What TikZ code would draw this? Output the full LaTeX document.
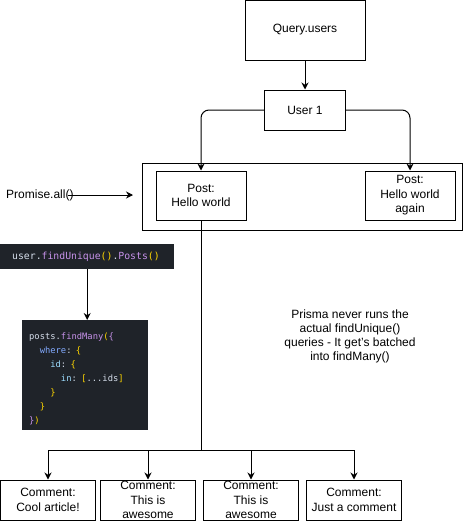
\documentclass[tikz,border=0pt]{standalone}
\usepackage{fontspec}
\setmainfont{Liberation Sans}
\newfontfamily\codefont{DejaVu Sans Mono}
\usetikzlibrary{arrows.meta}
\definecolor{codebg}{HTML}{1F2329}
\definecolor{cvar}{HTML}{D6DEEB}
\definecolor{cfun}{HTML}{C792EA}
\definecolor{cbr}{HTML}{FFD700}
\definecolor{ckey}{HTML}{82AAFF}
\definecolor{cprop}{HTML}{9CDCFE}
\begin{document}
\begin{tikzpicture}[x=1pt,y=-1pt,
  box/.style={draw, line width=1pt, align=center, inner sep=0pt,
    font=\fontsize{12}{14.5}\selectfont},
  lbl/.style={align=center, inner sep=0pt, font=\fontsize{12}{14}\selectfont},
  arr/.style={-{Stealth[length=7pt,width=7pt]}, line width=1pt},
  ln/.style={line width=1pt},
  code/.style={fill=codebg, draw=none, anchor=north west, align=left,
    text=cvar}]
\useasboundingbox (0,0) rectangle (464,522);

% top boxes
\node[box, minimum width=120pt, minimum height=60pt] (q) at (305,30) {Query.users};
\node[box, minimum width=81pt, minimum height=40pt] (u) at (305,110) {User 1};

% container and posts
\node[draw, line width=1pt, minimum width=320pt, minimum height=67pt, inner sep=0pt] (cont) at (302,196.5) {};
\node[box, minimum width=90pt, minimum height=49pt] (p1) at (201,195.5) {Post:\\Hello world};
\node[box, minimum width=90pt, minimum height=49pt] (p2) at (410,195.5) {Post:\\Hello world\\again};

% Promise.all
\node[lbl, anchor=west] (pa) at (6,195) {Promise.all()};
\coordinate (patip) at (133,195);

% code blocks
\node[code, inner xsep=12pt, inner ysep=0pt, text width=150pt, minimum height=25pt,
  font=\codefont\fontsize{9.8}{12}\selectfont] (code1) at (0,244)
  {user.{\color{cfun}findUnique}{\color{cbr}()}.{\color{cfun}Posts}{\color{cbr}()}};
\node[code, inner xsep=7pt, inner ysep=0pt, text width=112pt, minimum height=110pt,
  font=\codefont\fontsize{8.8}{14}\selectfont] (code2) at (22,320)
  {\rule{0pt}{14.7pt}posts.{\color{cfun}findMany}{\color{cbr}(}{\color{cfun}\{}\\
   \hspace*{1.204em}{\color{ckey}where}: {\color{cbr}\{}\\
   \hspace*{2.408em}{\color{cprop}id}: {\color{cbr}\{}\\
   \hspace*{3.612em}{\color{cprop}in}: {\color{cbr}[}...ids{\color{cbr}]}\\
   \hspace*{2.408em}{\color{cbr}\}}\\
   \hspace*{1.204em}{\color{cbr}\}}\\
   {\color{cfun}\}}{\color{cbr})}};

% note
\node[lbl] (note) at (350,336) {Prisma never runs the\\actual findUnique()\\queries - It get's batched\\into findMany()};

% comments
\node[box, minimum width=95pt, minimum height=40pt] (c1) at (48,500) {Comment:\\Cool article!};
\node[box, minimum width=95pt, minimum height=40pt] (c2) at (148,500) {Comment:\\This is\\awesome};
\node[box, minimum width=95pt, minimum height=40pt] (c3) at (251,500) {Comment:\\This is\\awesome};
\node[box, minimum width=95pt, minimum height=40pt] (c4) at (354,500) {Comment:\\Just a comment};
\coordinate (j) at (201,450);

% connectors
\draw[arr] (q) -- (u);
\draw[arr, rounded corners=8pt] (u.west) -| (p1.north);
\draw[arr, rounded corners=8pt] (u.east) -| (p2.north);
\draw[arr] ([xshift=-6pt]pa.east) -- (patip);
\draw[arr] (code1.south) -- (code1.south |- code2.north);
\draw[ln] (p1.south) -- (j);
\draw[arr] (j) -| (c1.north);
\draw[arr] (j) -| (c2.north);
\draw[arr] (j) -| (c3.north);
\draw[arr] (j) -| (c4.north);
\end{tikzpicture}
\end{document}
